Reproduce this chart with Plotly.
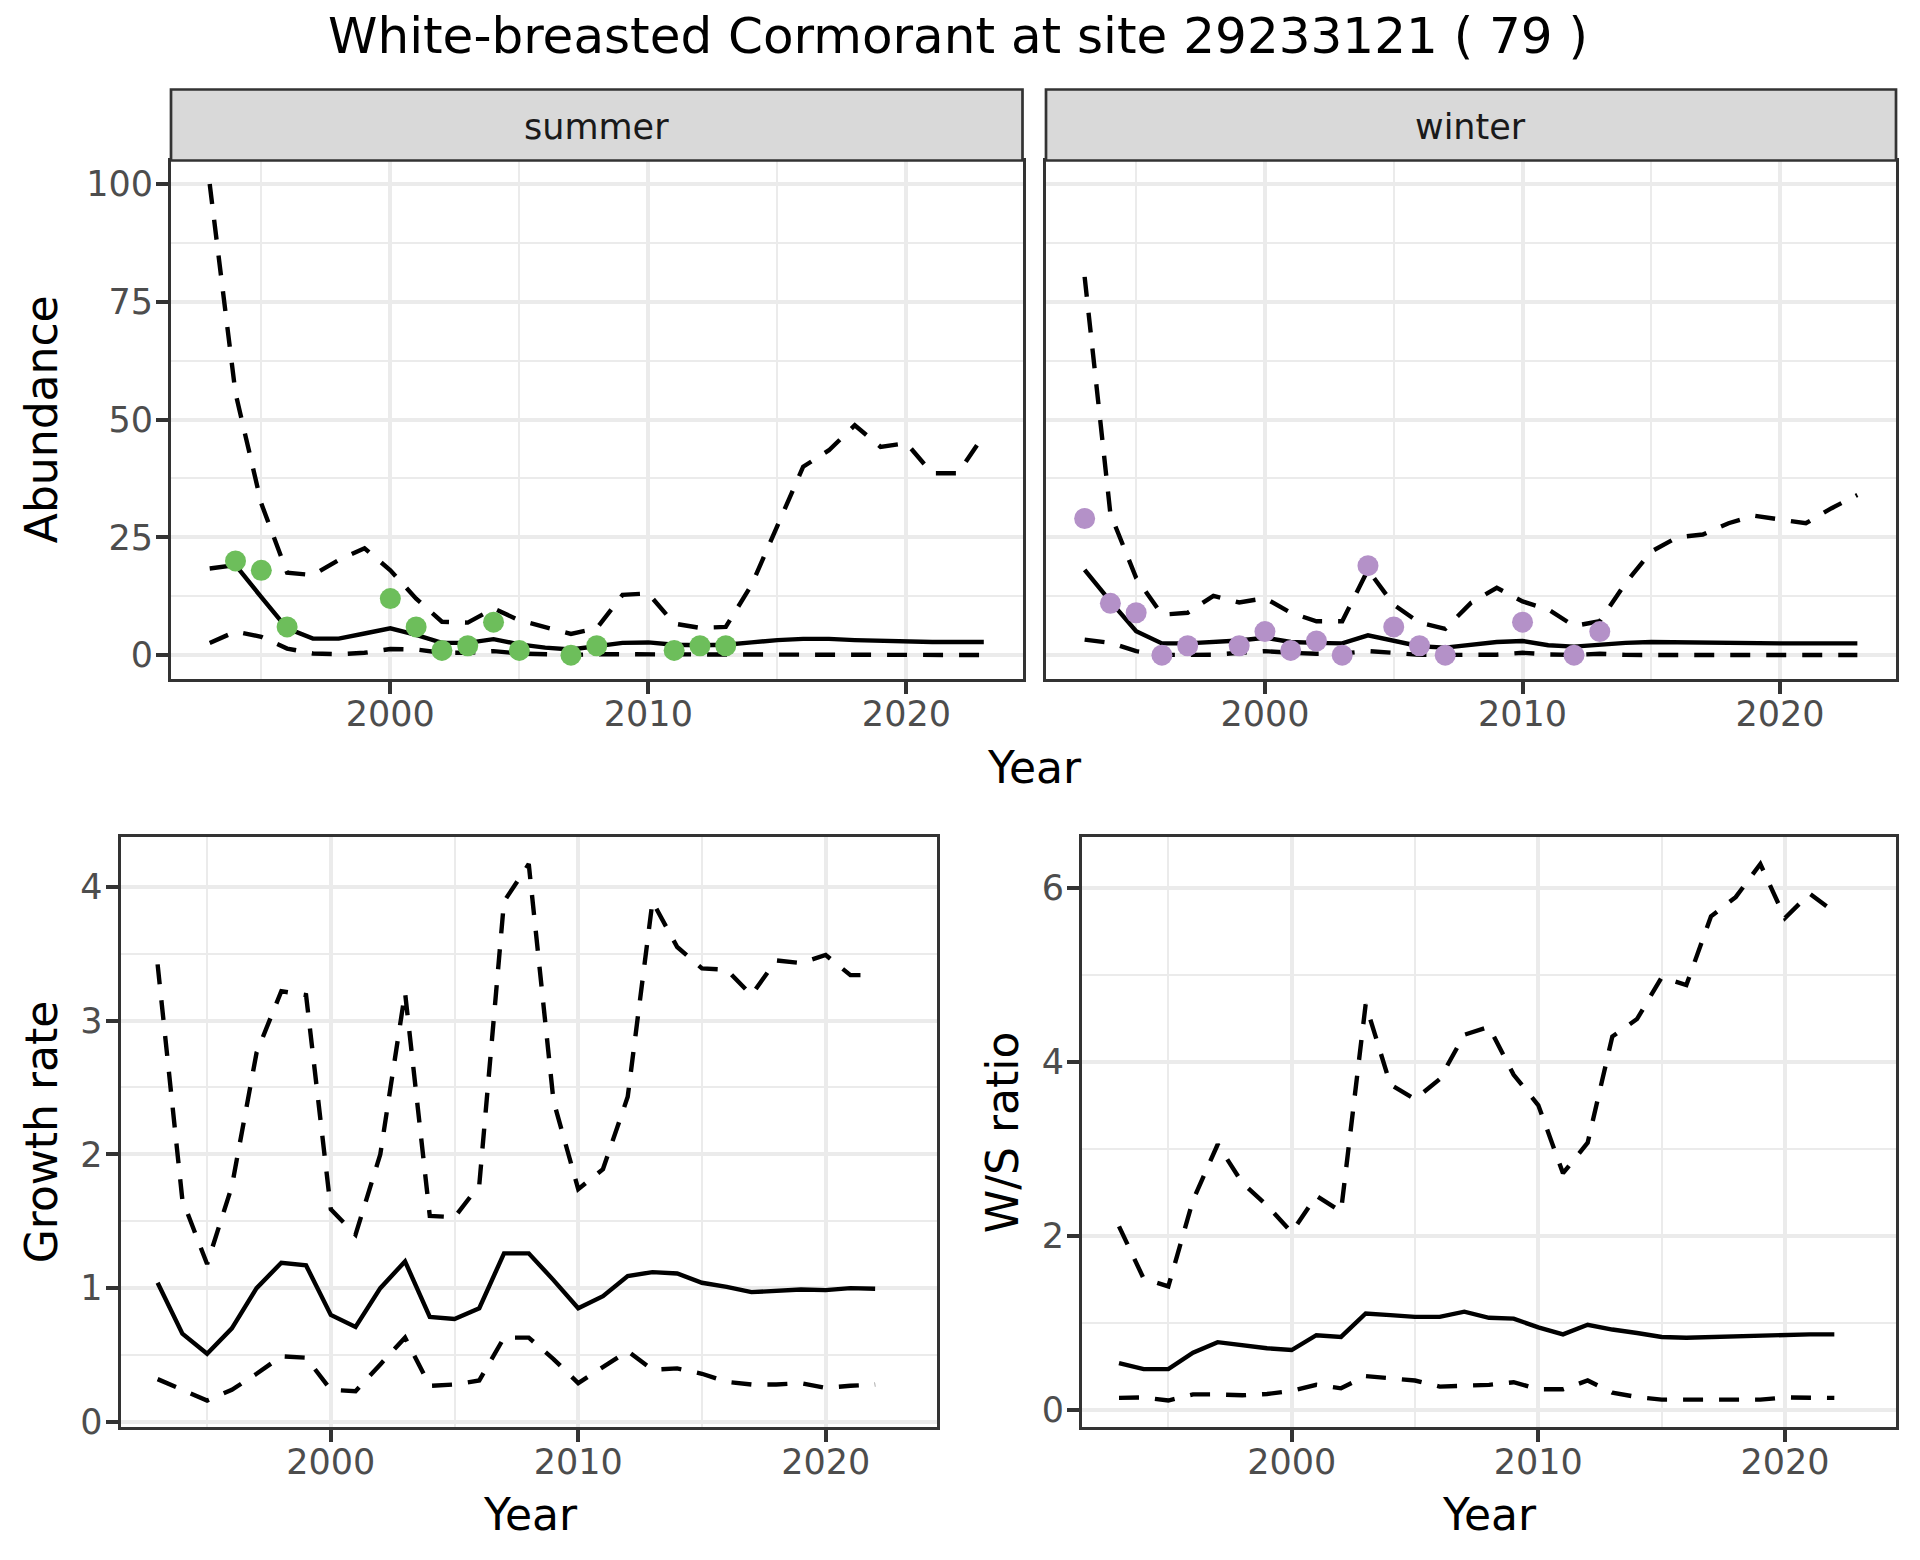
import plotly.graph_objects as go

# ---------------- data ----------------
years = list(range(1993, 2024))          # abundance panels
years_g = list(range(1993, 2023))        # growth-rate / ratio panels

summer_mean = [18.4, 19.1, 12.3, 5.7, 3.5, 3.5, 4.6, 5.7, 4.3, 2.6, 2.6, 3.4, 2.3, 1.6, 1.2, 2.0,
               2.6, 2.7, 2.2, 2.1, 2.2, 2.7, 3.2, 3.45, 3.45, 3.2, 3.0, 2.9, 2.8, 2.8, 2.8]
summer_upper = [100, 55.6, 32.2, 17.5, 17.0, 20.2, 22.7, 18.0, 12.0, 7.1, 6.9, 9.9, 7.4, 6.0, 4.5, 5.7,
                12.8, 13.1, 6.7, 5.8, 6.0, 14.9, 27.3, 40.0, 43.5, 48.8, 44.2, 45.0, 38.6, 38.6, 46.7]
summer_lower = [2.6, 5.0, 3.9, 1.4, 0.35, 0.2, 0.5, 1.3, 1.2, 0.5, 0.5, 0.85, 0.35, 0.15, 0.05, 0.2,
                0.2, 0.2, 0.15, 0.1, 0.05, 0.02, 0.02, 0.02, 0.02, 0.02, 0.02, 0.02, 0.02, 0.02, 0.02]
summer_obs_years = [1994, 1995, 1996, 2000, 2001, 2002, 2003, 2004, 2005, 2007, 2008, 2011, 2012, 2013]
summer_obs = [20, 18, 6, 12, 6, 1, 2, 7, 1, 0, 2, 1, 2, 2]

winter_mean = [18.1, 11.4, 5.1, 2.5, 2.5, 2.8, 3.1, 3.7, 2.8, 2.6, 2.5, 4.2, 3.0, 1.9, 1.6, 2.3,
               2.8, 3.0, 2.1, 1.8, 2.3, 2.6, 2.8, 2.7, 2.6, 2.6, 2.5, 2.5, 2.5, 2.5, 2.5]
winter_upper = [80.3, 30.0, 16.4, 8.6, 9.0, 12.6, 11.2, 12.1, 9.0, 7.2, 7.2, 18.1, 10.7, 6.9, 5.6, 11.1,
                14.3, 11.4, 9.7, 6.2, 7.2, 15.3, 22.0, 25.0, 25.6, 28.0, 29.6, 28.7, 28.0, 31.2, 34.0]
winter_lower = [3.3, 2.6, 0.85, 0.05, 0.05, 0.1, 0.5, 0.85, 0.5, 0.3, 0.35, 0.85, 0.5, 0.05, 0.05, 0.05,
                0.1, 0.5, 0.15, 0.05, 0.3, 0.05, 0.02, 0.02, 0.02, 0.02, 0.02, 0.02, 0.02, 0.02, 0.02]
winter_obs_years = [1993, 1994, 1995, 1996, 1997, 1999, 2000, 2001, 2002, 2003, 2004, 2005, 2006,
                    2007, 2010, 2012, 2013]
winter_obs = [29, 11, 9, 0, 2, 2, 5, 1, 3, 0, 19, 6, 2, 0, 7, 0, 5]

growth_mean = [1.04, 0.66, 0.51, 0.70, 1.00, 1.19, 1.17, 0.80, 0.71, 1.00, 1.20, 0.785, 0.77, 0.85,
               1.26, 1.26, 1.06, 0.85, 0.94, 1.09, 1.12, 1.11, 1.04, 1.01, 0.97, 0.98, 0.99, 0.985,
               1.0, 0.995]
growth_upper = [3.42, 1.66, 1.18, 1.76, 2.76, 3.22, 3.19, 1.59, 1.40, 2.0, 3.21, 1.54, 1.53, 1.77,
                3.89, 4.17, 2.4, 1.74, 1.89, 2.43, 3.89, 3.55, 3.39, 3.38, 3.19, 3.45, 3.43, 3.49,
                3.34, 3.34]
growth_lower = [0.32, 0.24, 0.16, 0.24, 0.36, 0.49, 0.48, 0.24, 0.23, 0.43, 0.63, 0.27, 0.28, 0.31,
                0.63, 0.63, 0.47, 0.29, 0.41, 0.53, 0.39, 0.40, 0.36, 0.30, 0.28, 0.28, 0.29, 0.255,
                0.27, 0.28]

ws_mean = [0.54, 0.47, 0.47, 0.66, 0.78, 0.74, 0.71, 0.69, 0.86, 0.84, 1.11, 1.09, 1.07, 1.07,
           1.13, 1.06, 1.05, 0.95, 0.87, 0.98, 0.925, 0.885, 0.84, 0.83, 0.84, 0.85, 0.86, 0.87,
           0.87, 0.87]
ws_upper = [2.11, 1.51, 1.42, 2.41, 3.05, 2.61, 2.35, 2.04, 2.46, 2.28, 4.66, 3.74, 3.57, 3.80,
            4.31, 4.40, 3.85, 3.50, 2.72, 3.07, 4.29, 4.49, 4.97, 4.88, 5.67, 5.89, 6.27, 5.65,
            5.93, 5.72]
ws_lower = [0.14, 0.145, 0.11, 0.18, 0.18, 0.17, 0.185, 0.22, 0.29, 0.25, 0.39, 0.37, 0.34, 0.27,
            0.28, 0.29, 0.32, 0.24, 0.24, 0.34, 0.20, 0.15, 0.12, 0.12, 0.115, 0.115, 0.12, 0.145,
            0.14, 0.14]

title_text = "White-breasted Cormorant at site 29233121 ( 79 )"
strip_labels = ["summer", "winter"]
x_ticks = [2000, 2010, 2020]
x_minor = [1995, 2005, 2015]

# ---------------- styling ----------------
OFF = 8                      # default page margin of the html body (all sides)
W, H = 1920 - 2 * OFF, 1560 - 2 * OFF
YS = 1.01                    # vertical placement factor
FONT = "DejaVu Sans"
GREEN = "#6DBE5B"
PURPLE = "#B491C8"
FRAME = "#333333"
GRID = "#EBEBEB"
LW = 4.4
DASH = "20px,16px"


def px_x(a, b):
    return [(a - OFF) / W, (b - OFF) / W]


def px_y(top, bottom):
    return [1 - (bottom * YS - OFF) / H, 1 - (top * YS - OFF) / H]


def pt(x, y):
    return (x - OFF) / W, 1 - (y * YS - OFF) / H


def expand(*series):
    vals = [v for s in series for v in s]
    lo, hi = min(vals), max(vals)
    pad = (hi - lo) * 0.05
    return [lo - pad, hi + pad]


X_RANGE = [1991.5, 2024.5]

# positions in page pixels
dom_tl = px_x(171, 1022.5)
dom_tr = px_x(1046, 1896)
dom_bl = px_x(120.5, 937)
dom_br = px_x(1082, 1896)
dom_top = px_y(160.4, 678.5)
dom_bot = px_y(837, 1427)
strip_y = px_y(89.4, 160.4)

tick_font = dict(family=FONT, size=35, color="#4D4D4D")


def xaxis(domain, anchor):
    return dict(domain=domain, anchor=anchor, range=X_RANGE, tickmode="array", tickvals=x_ticks,
                ticks="outside", ticklen=12, tickwidth=4, tickcolor=FRAME,
                showline=True, mirror=True, linecolor=FRAME, linewidth=2.7,
                showgrid=True, gridcolor=GRID, gridwidth=4, zeroline=False,
                minor=dict(tickmode="array", tickvals=x_minor, showgrid=True, gridcolor=GRID,
                           gridwidth=2, ticks=""),
                tickfont=tick_font, ticklabelstandoff=-10)


def yaxis(domain, anchor, rng, major, minor, labels=True):
    return dict(domain=domain, anchor=anchor, range=rng, tickmode="array", tickvals=major,
                ticks="outside" if labels else "", ticklen=12, tickwidth=4, tickcolor=FRAME,
                showticklabels=labels,
                showline=True, mirror=True, linecolor=FRAME, linewidth=2.7,
                showgrid=True, gridcolor=GRID, gridwidth=4, zeroline=False,
                minor=dict(tickmode="array", tickvals=minor, showgrid=True, gridcolor=GRID,
                           gridwidth=2, ticks=""),
                tickfont=tick_font, ticklabelstandoff=-4)


fig = go.Figure()


def add_band(x, mean, upper, lower, xa, ya):
    fig.add_trace(go.Scatter(x=x, y=upper, mode="lines", xaxis=xa, yaxis=ya,
                             line=dict(color="black", width=LW, dash=DASH), showlegend=False))
    fig.add_trace(go.Scatter(x=x, y=mean, mode="lines", xaxis=xa, yaxis=ya,
                             line=dict(color="black", width=LW), showlegend=False))
    fig.add_trace(go.Scatter(x=x, y=lower, mode="lines", xaxis=xa, yaxis=ya,
                             line=dict(color="black", width=LW, dash=DASH), showlegend=False))


add_band(years, summer_mean, summer_upper, summer_lower, "x", "y")
fig.add_trace(go.Scatter(x=summer_obs_years, y=summer_obs, mode="markers", xaxis="x", yaxis="y",
                         marker=dict(color=GREEN, size=21, line=dict(width=0)), showlegend=False))
add_band(years, winter_mean, winter_upper, winter_lower, "x2", "y2")
fig.add_trace(go.Scatter(x=winter_obs_years, y=winter_obs, mode="markers", xaxis="x2", yaxis="y2",
                         marker=dict(color=PURPLE, size=21, line=dict(width=0)), showlegend=False))
add_band(years_g, growth_mean, growth_upper, growth_lower, "x3", "y3")
add_band(years_g, ws_mean, ws_upper, ws_lower, "x4", "y4")

top_range = expand(summer_upper, summer_lower, winter_upper, winter_lower, summer_obs, winter_obs)
g_range = expand(growth_upper, growth_lower, growth_mean)
w_range = expand(ws_upper, ws_lower, ws_mean)

fig.update_layout(
    width=W, height=H,
    margin=dict(l=0, r=0, t=0, b=0),
    paper_bgcolor="white", plot_bgcolor="white",
    font=dict(family=FONT, color="black"),
    showlegend=False,
    xaxis=xaxis(dom_tl, "y"),
    yaxis=yaxis(dom_top, "x", top_range, [0, 25, 50, 75, 100], [12.5, 37.5, 62.5, 87.5]),
    xaxis2=xaxis(dom_tr, "y2"),
    yaxis2=yaxis(dom_top, "x2", top_range, [0, 25, 50, 75, 100], [12.5, 37.5, 62.5, 87.5],
                 labels=False),
    xaxis3=xaxis(dom_bl, "y3"),
    yaxis3=yaxis(dom_bot, "x3", g_range, [0, 1, 2, 3, 4], [0.5, 1.5, 2.5, 3.5]),
    xaxis4=xaxis(dom_br, "y4"),
    yaxis4=yaxis(dom_bot, "x4", w_range, [0, 2, 4, 6], [1, 3, 5]),
)

# facet strips
for dom, lab in zip([dom_tl, dom_tr], strip_labels):
    fig.add_shape(type="rect", xref="paper", yref="paper", x0=dom[0], x1=dom[1],
                  y0=strip_y[0], y1=strip_y[1], fillcolor="#D9D9D9",
                  line=dict(color=FRAME, width=2.7), layer="above")
    fig.add_annotation(x=(dom[0] + dom[1]) / 2, y=pt(0, 127)[1], xref="paper", yref="paper",
                       text=lab, showarrow=False, xanchor="center", yanchor="middle",
                       font=dict(family=FONT, size=35, color="#1A1A1A"))

# title and axis titles
AX_FONT = dict(family=FONT, size=44, color="black")


def label(x, y, text, font, angle=0):
    px, py = pt(x, y)
    fig.add_annotation(x=px, y=py, xref="paper", yref="paper", text=text, showarrow=False,
                       textangle=angle, xanchor="center", yanchor="middle", font=font)


label(958, 36, title_text, dict(family=FONT, size=50, color="black"))
label(1034, 767, "Year", AX_FONT)
label(530, 1514, "Year", AX_FONT)
label(1489, 1514, "Year", AX_FONT)
label(41, 419, "Abundance", AX_FONT, -90)
label(41, 1132, "Growth rate", AX_FONT, -90)
label(1002, 1132, "W/S ratio", AX_FONT, -90)

fig.write_html("out.html")
